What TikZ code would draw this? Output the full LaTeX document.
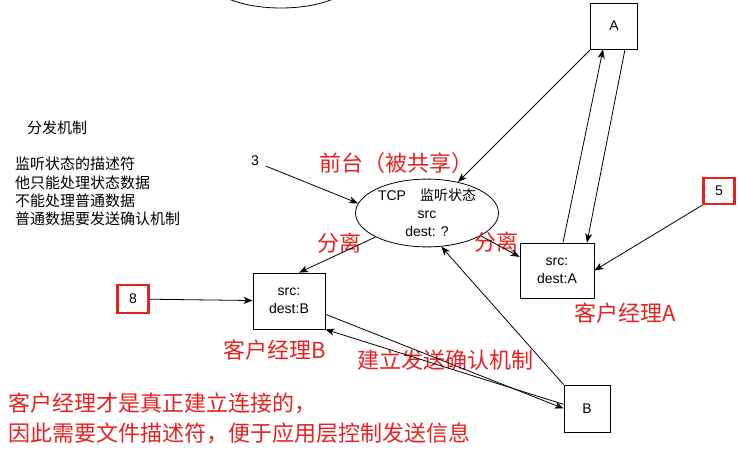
\documentclass[tikz,border=0pt]{standalone}
\usepackage{fontspec}
\setmainfont{Liberation Sans}
\newfontfamily\cjk{Noto Sans CJK SC}
\usepackage{xcolor}
\definecolor{tagred}{RGB}{232,32,32}
\usetikzlibrary{arrows.meta, shapes.geometric}

\tikzset{
  plainbox/.style={draw, line width=0.8pt, font=\fontsize{14}{18}\selectfont, align=center, inner sep=0pt},
  tagbox/.style={draw=tagred, line width=2.2pt, font=\fontsize{14}{18}\selectfont, inner sep=0pt},
  listenell/.style={draw, ellipse, line width=0.8pt, minimum width=143pt, minimum height=57pt,
                    inner sep=0pt, align=center, font=\fontsize{14}{18}\selectfont},
  redtext/.style={text=tagred, font=\cjk\fontsize{22}{30}\selectfont, inner sep=0pt, align=left},
  note/.style={font=\cjk\fontsize{15}{18.3}\selectfont, inner sep=0pt, align=left},
  link/.style={line width=0.8pt, -{Stealth[length=9pt,width=7pt,inset=2.5pt]}},
}

\begin{document}
\begin{tikzpicture}[x=1pt, y=-1pt]
\useasboundingbox (0,0) rectangle (739,449);
\clip (0,0) rectangle (739,449);

% listening socket and the one above it
\node[listenell] (topell) at (281,-20.5) {};
\node[listenell] (tcp) at (427,213) {TCP\quad{\cjk 监听状态}\\src\\dest: ?};

% hosts and per-client sockets
\node[plainbox, minimum width=47pt, minimum height=46pt] (boxA) at (614,26) {A};
\node[plainbox, minimum width=46pt, minimum height=47pt] (boxB) at (587,408.5) {B};
\node[plainbox, minimum width=74pt, minimum height=55pt] (destA) at (557,270.5) {src:\\dest:A};
\node[plainbox, minimum width=72pt, minimum height=56pt] (destB) at (289,301) {src:\\dest:B};
\node[tagbox, minimum width=31pt, minimum height=26pt] (box5) at (719,191) {5};
\node[tagbox, minimum width=31pt, minimum height=28pt] (box8) at (133,299) {8};
\node[font=\fontsize{14}{18}\selectfont, inner sep=7pt] (num3) at (255,161) {3};

% notes
\node[note, anchor=west] (fenfa) at (27,128) {分发机制};
\node[note, anchor=west] (listennote) at (15,191.5) {监听状态的描述符\\他只能处理状态数据\\不能处理普通数据\\普通数据要发送确认机制};

% red remarks
\node[redtext] (qiantai) at (396,163) {前台（被共享）};
\node[redtext] (sepL) at (339,243) {分离};
\node[redtext] (sepR) at (496,242) {分离};
\node[redtext] (mgrA) at (625,313) {客户经理A};
\node[redtext] (mgrB) at (275,350) {客户经理B};
\node[redtext] (ackmech) at (445,360) {建立发送确认机制};
\node[redtext, anchor=west] (summary) at (8,418) {客户经理才是真正建立连接的，\\因此需要文件描述符，便于应用层控制发送信息};

% connectors
\draw[link] (boxA) -- (tcp);
\draw[link] ([xshift=6pt]destA.north) -- ([xshift=-11pt]boxA.south);
\draw[link] ([xshift=11pt]boxA.south) -- ([xshift=30pt]destA.north);
\draw[link] (box5.south west) -- (destA.east);
\draw[link] (tcp.337) -- (destA.160);
\draw[link] (tcp.205) -- ([xshift=10pt]destB.north);
\draw[link] (boxB.north west) -- (tcp.293);
\draw[link] (destB.-20) -- (boxB.west);
\draw[link] (boxB.170) -- (destB.south east);
\draw[link] (box8) -- (destB);
\draw[link] (num3.-25) -- (tcp.172);
\end{tikzpicture}
\end{document}
